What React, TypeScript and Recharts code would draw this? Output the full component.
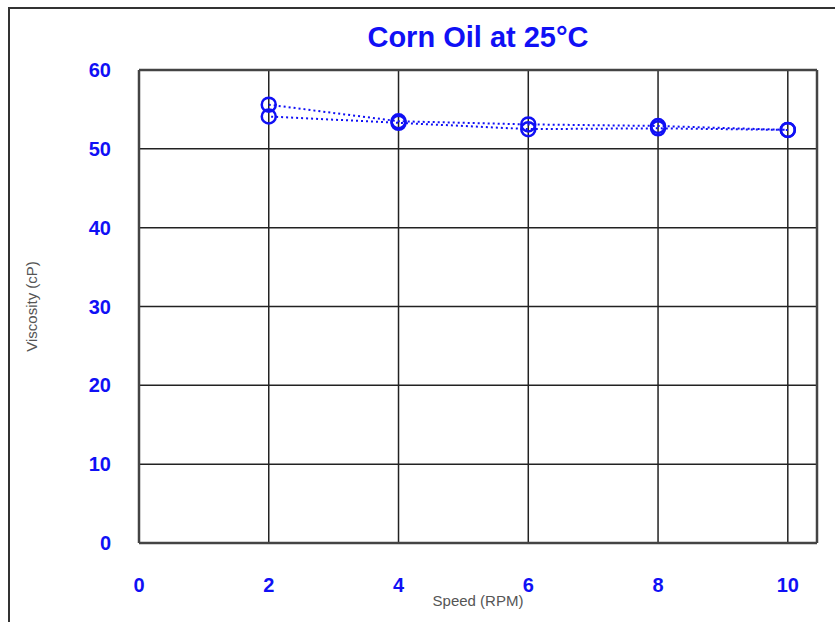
import { LineChart, Line, XAxis, YAxis, CartesianGrid, ReferenceLine } from 'recharts'

const speeds = [2, 4, 6, 8, 10]
const viscosityRampUp = [55.6, 53.5, 53.1, 52.9, 52.4]
const viscosityRampDown = [54.1, 53.3, 52.5, 52.6, 52.4]
const xTicks = [0, 2, 4, 6, 8, 10]
const yTicks = [0, 10, 20, 30, 40, 50, 60]

const upData = speeds.map((x, i) => ({ x, v: viscosityRampUp[i] }))
const downData = speeds.map((x, i) => ({ x, v: viscosityRampDown[i] })).reverse()

const BLUE = '#1010f5'
const FONT = '"Liberation Sans", Arial, sans-serif'
const X_MAX = 10.45

export default function App() {
  const tick = { fill: BLUE, fontSize: 20, fontWeight: 700, fontFamily: FONT }
  const dot = { r: 7, fill: 'none', stroke: BLUE, strokeWidth: 2.5, strokeDasharray: 'none' }

  return (
    <div style={{ position: 'absolute', left: 0, top: 0, width: 835, height: 622, background: '#fff' }}>
      <div
        style={{
          position: 'absolute', left: 8, top: 7, right: 0, bottom: 0,
          borderLeft: '2px solid #333', borderTop: '2px solid #333',
        }}
      />
      <div
        style={{
          position: 'absolute', left: 139, width: 678, top: 21, textAlign: 'center',
          color: BLUE, fontFamily: FONT, fontWeight: 700, fontSize: 29,
        }}
      >
        Corn Oil at 25°C
      </div>
      <LineChart
        width={835}
        height={622}
        margin={{ top: 70, right: 18, bottom: 29, left: 0 }}
        style={{ position: 'absolute', left: 0, top: 0 }}
      >
        <CartesianGrid stroke="#222" strokeWidth={1.5} />
        <XAxis
          type="number"
          dataKey="x"
          domain={[0, X_MAX]}
          ticks={xTicks}
          allowDataOverflow
          height={50}
          tickLine={false}
          tickMargin={29}
          tick={tick}
          axisLine={{ stroke: '#444', strokeWidth: 2.5 }}
          label={{ value: 'Speed (RPM)', position: 'bottom', offset: 2, fill: '#555', fontSize: 15, fontFamily: FONT }}
        />
        <YAxis
          type="number"
          domain={[0, 60]}
          ticks={yTicks}
          width={139}
          tickLine={false}
          tickMargin={22}
          tick={tick}
          axisLine={{ stroke: '#444', strokeWidth: 2.5 }}
          label={{ value: 'Viscosity (cP)', angle: -90, position: 'insideLeft', offset: 32, textAnchor: 'middle', fill: '#555', fontSize: 15, fontFamily: FONT }}
        />
        <ReferenceLine y={60} stroke="#444" strokeWidth={2.5} />
        <ReferenceLine x={X_MAX} stroke="#444" strokeWidth={2.5} />
        <Line
          data={upData}
          dataKey="v"
          stroke={BLUE}
          strokeWidth={2}
          strokeDasharray="2 3"
          dot={dot}
          activeDot={false}
          isAnimationActive={false}
        />
        <Line
          data={downData}
          dataKey="v"
          stroke={BLUE}
          strokeWidth={2}
          strokeDasharray="2 3"
          dot={dot}
          activeDot={false}
          isAnimationActive={false}
        />
      </LineChart>
    </div>
  )
}
